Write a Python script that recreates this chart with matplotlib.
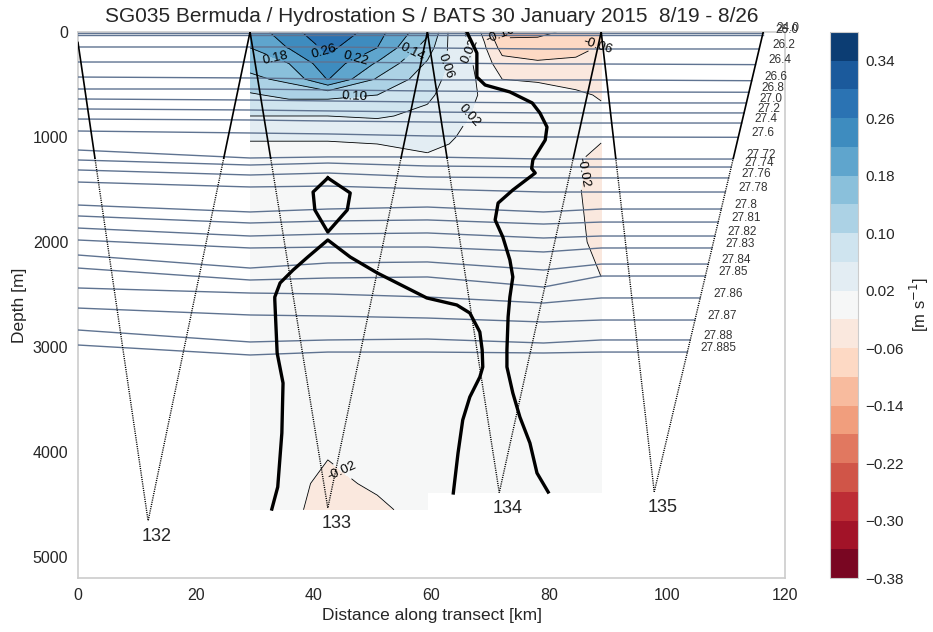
import numpy as np
import matplotlib
matplotlib.use("Agg")
import matplotlib.pyplot as plt
from matplotlib.ticker import FuncFormatter

plt.rcParams['font.family'] = ['Liberation Sans', 'DejaVu Sans']
plt.rcParams['text.color'] = '#262626'
plt.rcParams['axes.labelcolor'] = '#262626'
plt.rcParams['xtick.color'] = '#262626'
plt.rcParams['ytick.color'] = '#262626'

# ---------------- cross-section velocity [m/s] ----------------
# western block (between the surfacings of dives 132 and 133)
dist_west = [29.2, 35.8, 42.4, 50.8, 59.3]
depth_west = [0, 150, 300, 450, 600, 800, 1000, 1200, 1500, 2000, 2500, 3000, 3500, 4000, 4300, 4550]
vel_29 = [0.20, 0.18, 0.155, 0.13, 0.095, 0.06, 0.022, 0.012, 0.006, 0.004, 0.002, 0.0, 0.0, 0.0, 0.0, 0.0]
vel_36 = [0.24, 0.222, 0.18, 0.15, 0.11, 0.06, 0.022, 0.012, 0.006, 0.004, 0.002, 0.0, 0.0, -0.002, -0.005, -0.008]
vel_42 = [0.30, 0.27, 0.245, 0.222, 0.11, 0.06, 0.022, 0.012, 0.006, 0.004, 0.002, 0.0, -0.004, -0.016, -0.032, -0.04]
vel_51 = [0.235, 0.22, 0.175, 0.135, 0.10, 0.065, 0.024, 0.012, 0.006, 0.003, 0.001, 0.0, 0.0, -0.004, -0.012, -0.03]
vel_59 = [0.15, 0.12, 0.095, 0.08, 0.068, 0.05, 0.035, 0.015, 0.006, 0.002, 0.0, 0.0, 0.0, 0.0, 0.0, 0.0]

# eastern block (between the surfacings of dives 133 and 134)
dist_east = [59.3, 63.0, 66.0, 69.0, 72.0, 78.0, 84.5, 88.8]
depth_east = [0, 150, 300, 450, 600, 800, 1000, 1200, 1500, 2000, 2500, 3000, 3500, 4000, 4300, 4390]
vel_63 = [0.055, 0.055, 0.055, 0.05, 0.045, 0.035, 0.025, 0.01, 0.004, 0.002, 0.0, 0.0, 0.0, 0.0, 0.0, 0.0]
vel_66 = [0.015, 0.025, 0.03, 0.03, 0.028, 0.022, 0.012, 0.004, 0.0, 0.0, 0.0, 0.0, 0.0, 0.0, 0.0, 0.0]
vel_69 = [-0.03, -0.015, 0.0, 0.01, 0.015, 0.01, 0.004, 0.0, -0.002, 0.0, 0.0, 0.0, 0.0, 0.0, 0.0, 0.0]
vel_72 = [-0.115, -0.075, -0.045, -0.02, -0.01, -0.004, 0.0, 0.0, 0.0, 0.0, 0.0, 0.0, 0.0, 0.0, 0.0, 0.0]
vel_78 = [-0.11, -0.08, -0.055, -0.022, -0.012, -0.008, -0.004, 0.0, 0.0, 0.0, 0.0, 0.0, 0.0, 0.0, 0.0, 0.0]
vel_85 = [-0.09, -0.075, -0.05, -0.028, -0.016, -0.012, -0.012, -0.015, -0.016, -0.012, -0.006, 0.0, 0.0, 0.0, 0.0, 0.0]
vel_89 = [-0.075, -0.055, -0.04, -0.03, -0.022, -0.015, -0.016, -0.03, -0.035, -0.03, -0.015, -0.005, 0.0, 0.0, 0.0, 0.0]

# zero-velocity lines
zero_east_km = [66.0, 67.7, 67.7, 69.1, 73.3, 77.1, 78.4, 79.6, 79.3, 77.2, 77.0, 77.6, 73.8,
                71.3, 70.8, 72.1, 73.3, 73.8, 73.3, 73.0, 72.8, 72.8, 73.8, 75.0, 76.7, 77.9, 79.8]
zero_east_m = [0, 200, 429, 505, 571, 676, 771, 905, 1029, 1219, 1300, 1343, 1505,
               1629, 1790, 1952, 2171, 2333, 2524, 2714, 3029, 3190, 3438, 3667, 3914, 4200, 4381]
zero_mid_km = [32.9, 33.9, 34.6, 34.8, 33.8, 33.4, 33.4, 34.3, 36.5, 39.0, 42.4, 46.2, 50.8,
               59.2, 64.3, 66.5, 68.2, 68.6, 68.7, 68.2, 66.5, 65.3, 64.5, 63.7]
zero_mid_m = [4543, 4333, 3819, 3343, 3057, 2552, 2524, 2390, 2267, 2143, 1981, 2143, 2295,
              2533, 2600, 2676, 2857, 3029, 3190, 3286, 3476, 3695, 4010, 4390]
zero_loop_km = [42.4, 46.2, 45.7, 42.4, 40.2, 39.9, 42.4]
zero_loop_m = [1390, 1533, 1695, 1905, 1695, 1524, 1390]

# ---------------- isopycnals [kg/m^3 - 1000] ----------------
sigma_labels = ['24.0', '26.0', '26.2', '26.4', '26.6', '26.8', '27.0', '27.2', '27.4', '27.6',
                '27.72', '27.74', '27.76', '27.78', '27.8', '27.81', '27.82', '27.83', '27.84',
                '27.85', '27.86', '27.87', '27.88', '27.885']
sigma_dist = [0.0, 29.2, 42.4, 59.3, 79.0, 88.8]
sigma_z_0 = [5, 25, 143, 286, 429, 543, 638, 733, 829, 943, 1124, 1219, 1314, 1429,
             1648, 1752, 1867, 1981, 2124, 2248, 2438, 2629, 2838, 2981]
sigma_z_29 = [5, 25, 143, 286, 438, 543, 648, 743, 838, 962, 1200, 1267, 1362, 1476,
              1714, 1819, 1943, 2057, 2248, 2362, 2486, 2695, 2952, 3076]
sigma_z_42 = [5, 25, 143, 286, 448, 552, 657, 752, 848, 971, 1190, 1248, 1343, 1467,
              1686, 1800, 1924, 2048, 2200, 2343, 2495, 2705, 2933, 3048]
sigma_z_59 = [5, 25, 152, 295, 457, 562, 667, 762, 857, 990, 1190, 1276, 1381, 1495,
              1667, 1790, 1914, 2048, 2190, 2333, 2524, 2724, 2924, 3048]
sigma_z_79 = [5, 25, 162, 305, 457, 571, 676, 771, 867, 1000, 1210, 1286, 1390, 1524,
              1714, 1829, 1962, 2095, 2267, 2429, 2581, 2762, 2962, 3057]
sigma_z_89 = [5, 25, 162, 305, 457, 571, 676, 771, 867, 1000, 1210, 1286, 1390, 1524,
              1686, 1810, 1943, 2057, 2210, 2324, 2533, 2743, 2933, 3048]
sigma_z_end = [5, 25, 162, 311, 464, 574, 676, 771, 867, 1003, 1210, 1286, 1390, 1524,
               1686, 1810, 1943, 2057, 2210, 2324, 2533, 2743, 2933, 3048]

# ---------------- glider dives ----------------
dive_names = ['132', '133', '134', '135']
dive_start_km = [0.0, 29.2, 59.3, 88.8]
dive_start_m = [100, 0, 0, 0]
dive_apex_km = [11.9, 42.4, 71.5, 97.8]
dive_apex_m = [4657, 4533, 4387, 4380]
dive_end_km = [29.2, 59.3, 88.8, 116.3]

levels = np.round(np.arange(-0.38, 0.3801, 0.04), 2)

fig = plt.figure(figsize=(9.33, 6.32), dpi=100)
ax = fig.add_axes([0.0836, 0.0854, 0.7578, 0.8640])
cax = fig.add_axes([0.8896, 0.0854, 0.0300, 0.8640])

west = np.array([vel_29, vel_36, vel_42, vel_51, vel_59]).T
east = np.array([vel_59, vel_63, vel_66, vel_69, vel_72, vel_78, vel_85, vel_89]).T

cf_w = ax.contourf(dist_west, depth_west, west, levels=levels, cmap='RdBu', zorder=1)
cf_e = ax.contourf(dist_east, depth_east, east, levels=levels, cmap='RdBu', zorder=1)
cl_w = ax.contour(dist_west, depth_west, west, levels=levels, colors='k',
                  linewidths=0.6, linestyles='solid', zorder=2)
cl_e = ax.contour(dist_east, depth_east, east, levels=levels, colors='k',
                  linewidths=0.6, linestyles='solid', zorder=2)
ax.clabel(cl_w, manual=[(41.9, 162), (47.0, 190), (33.5, 238), (56.7, 171),
                        (47.0, 571), (44.8, 4200)],
          inline=True, fontsize=9.5, fmt='%1.2f')
ax.clabel(cl_e, manual=[(62.6, 333), (67.0, 838), (67.2, 150), (71.5, 48),
                        (88.3, 140), (88.1, 1380)],
          inline=True, fontsize=9.5, fmt='%1.2f')

# isopycnals, ending on the last ascent
asc_top, asc_bot, asc_depth = dive_end_km[-1], dive_apex_km[-1], dive_apex_m[-1]
for i, lab in enumerate(sigma_labels):
    z_end = sigma_z_end[i]
    x_end = asc_top - (asc_top - asc_bot) * z_end / asc_depth
    xs = sigma_dist + [x_end]
    zs = [sigma_z_0[i], sigma_z_29[i], sigma_z_42[i], sigma_z_59[i],
          sigma_z_79[i], sigma_z_89[i], z_end]
    ax.plot(xs, zs, color='#5f7391', lw=1.0, zorder=3)
    ax.text(x_end + 2.2, z_end - 40, lab, fontsize=8.5, ha='left', va='center',
            color='#333333', zorder=5)

# glider dive tracks: solid near surface, dotted at depth
split_m = 1200
for name, x0, z0, xa, za, x1 in zip(dive_names, dive_start_km, dive_start_m,
                                    dive_apex_km, dive_apex_m, dive_end_km):
    for (xs_, zs_) in (((x0, xa), (z0, za)), ((xa, x1), (za, 0))):
        xs_ = np.array(xs_, float)
        zs_ = np.array(zs_, float)
        xm = np.interp(split_m, np.sort(zs_), xs_[np.argsort(zs_)])
        ax.plot([xs_[zs_.argmin()], xm], [zs_.min(), split_m], color='k', lw=1.2, zorder=4)
        ax.plot([xm, xs_[zs_.argmax()]], [split_m, zs_.max()], color='k', lw=1.0,
                linestyle=(0, (0.8, 0.8)), zorder=4)
    ax.text(xa + 1.5, za + 70, name, fontsize=13, ha='center', va='top', zorder=5)

for xs, zs in ((zero_east_km, zero_east_m), (zero_mid_km, zero_mid_m),
               (zero_loop_km, zero_loop_m)):
    ax.plot(xs, zs, color='k', lw=2.4, zorder=6, solid_joinstyle='round')

ax.set_xlim(0, 120)
ax.set_ylim(5200, 0)
ax.set_xticks(np.arange(0, 121, 20))
ax.set_yticks(np.arange(0, 5001, 1000))
ax.tick_params(length=0, labelsize=11.5, pad=7)
for sp in ax.spines.values():
    sp.set_color('#cccccc')
    sp.set_linewidth(1.2)
ax.set_xlabel('Distance along transect [km]', fontsize=12.5)
ax.set_ylabel('Depth [m]', fontsize=12.5)
ax.set_title('SG035 Bermuda / Hydrostation S / BATS 30 January 2015  8/19 - 8/26',
             fontsize=15, pad=7)

cb = fig.colorbar(cf_w, cax=cax, ticks=levels[::2])
cb.ax.yaxis.set_major_formatter(FuncFormatter(lambda v, p: f'{v:.2f}'.replace('-', '\u2212')))
cb.ax.tick_params(length=0, labelsize=11, pad=5)
cb.outline.set_edgecolor('#cccccc')
cb.set_label('[m s$^{-1}$]', fontsize=12, labelpad=3)

fig.savefig('out.png', dpi=100)
